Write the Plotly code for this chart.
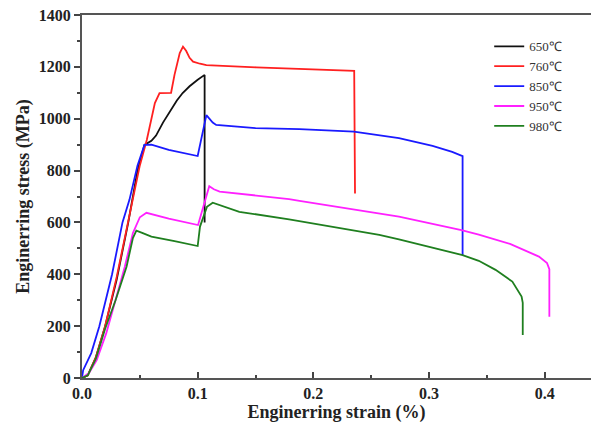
import plotly.graph_objects as go

labels = ["650\u2103", "760\u2103", "850\u2103", "950\u2103", "980\u2103"]
colors = ["#111111", "#ff2020", "#1a1aff", "#ff20ff", "#1f7f1f"]

x650 = [0.0, 0.005, 0.012, 0.020, 0.030, 0.040, 0.048, 0.054, 0.060, 0.064, 0.070, 0.076, 0.082, 0.087, 0.093, 0.100, 0.106, 0.106]
y650 = [0, 10, 80, 200, 380, 600, 800, 899, 915, 935, 985, 1030, 1070, 1099, 1125, 1150, 1169, 600]

x760 = [0.0, 0.005, 0.012, 0.020, 0.030, 0.040, 0.050, 0.056, 0.060, 0.063, 0.067, 0.077, 0.080, 0.0845, 0.0873, 0.090, 0.093, 0.096, 0.102, 0.1075, 0.1506, 0.2000, 0.2353, 0.2360]
y760 = [0, 10, 80, 200, 390, 610, 820, 918, 1000, 1060, 1099, 1100, 1170, 1253, 1278, 1262, 1235, 1220, 1212, 1207, 1198, 1192, 1185, 712]

x850 = [0.0, 0.001, 0.008, 0.015, 0.026, 0.035, 0.041, 0.048, 0.054, 0.060, 0.075, 0.100, 0.1075, 0.110, 0.113, 0.116, 0.150, 0.188, 0.235, 0.274, 0.303, 0.320, 0.329, 0.329]
y850 = [0, 30, 96, 200, 400, 600, 687, 820, 899, 900, 880, 856, 1014, 1000, 985, 976, 964, 960, 950, 925, 895, 872, 856, 474]

x950 = [0.0, 0.006, 0.0127, 0.021, 0.029, 0.037, 0.044, 0.050, 0.0557, 0.060, 0.075, 0.1003, 0.106, 0.110, 0.114, 0.119, 0.179, 0.188, 0.248, 0.274, 0.328, 0.343, 0.370, 0.395, 0.402, 0.404, 0.404]
y950 = [0, 19, 69, 173, 301, 429, 559, 620, 637, 632, 615, 590, 680, 740, 728, 719, 690, 683, 641, 622, 570, 553, 517, 468, 443, 420, 236]

x980 = [0.0, 0.005, 0.012, 0.020, 0.029, 0.0385, 0.044, 0.047, 0.052, 0.060, 0.080, 0.100, 0.102, 0.108, 0.113, 0.120, 0.136, 0.179, 0.188, 0.257, 0.274, 0.329, 0.343, 0.3575, 0.372, 0.380, 0.381, 0.381]
y980 = [0, 10, 75, 190, 300, 429, 540, 568, 560, 545, 528, 509, 584, 660, 676, 665, 641, 612, 605, 552, 535, 474, 452, 417, 372, 314, 290, 166]

series_x = [x650, x760, x850, x950, x980]
series_y = [y650, y760, y850, y950, y980]

fig = go.Figure()
for name, c, xs, ys in zip(labels, colors, series_x, series_y):
    fig.add_trace(go.Scatter(x=xs, y=ys, mode="lines", name=name,
                             line=dict(color=c, width=1.8)))

serif = "Liberation Serif, Times New Roman, serif"
fig.update_layout(
    width=591, height=428,
    margin=dict(l=82, r=0, t=15, b=50),
    paper_bgcolor="white", plot_bgcolor="white",
    font=dict(family=serif, size=14, color="#222222"),
    legend=dict(x=0.80, y=0.955, xanchor="left", yanchor="top",
                bgcolor="rgba(0,0,0,0)", font=dict(family=serif, size=13, color="#333333"),
                tracegroupgap=0, itemwidth=30),
    xaxis=dict(range=[0, 0.44], tickvals=[0.0, 0.1, 0.2, 0.3, 0.4],
               ticktext=["0.0", "0.1", "0.2", "0.3", "0.4"],
               ticks="inside", ticklen=6, tickwidth=2, tickcolor="#444444",
               minor=dict(ticks="inside", ticklen=3, tickwidth=1.5, dtick=0.05, tickcolor="#444444"),
               showline=True, linecolor="#555555", linewidth=2, mirror=True,
               showgrid=False, zeroline=False,
               tickfont=dict(family=serif, size=16, weight="bold", color="#222222"),
               title=dict(text="Enginerring strain (%)", standoff=2,
                          font=dict(family=serif, size=18, weight="bold", color="#222222"))),
    yaxis=dict(range=[0, 1400], dtick=200,
               ticks="outside", ticklen=6, tickwidth=2, tickcolor="#444444",
               minor=dict(ticks="outside", ticklen=3, tickwidth=1.5, dtick=100, tickcolor="#444444"),
               showline=True, linecolor="#555555", linewidth=2,
               showgrid=False, zeroline=False,
               tickfont=dict(family=serif, size=16, weight="bold", color="#222222"),
               title=dict(text="Enginerring stress (MPa)", standoff=4,
                          font=dict(family=serif, size=18, weight="bold", color="#222222"))),
)

fig.write_html("out.html")
